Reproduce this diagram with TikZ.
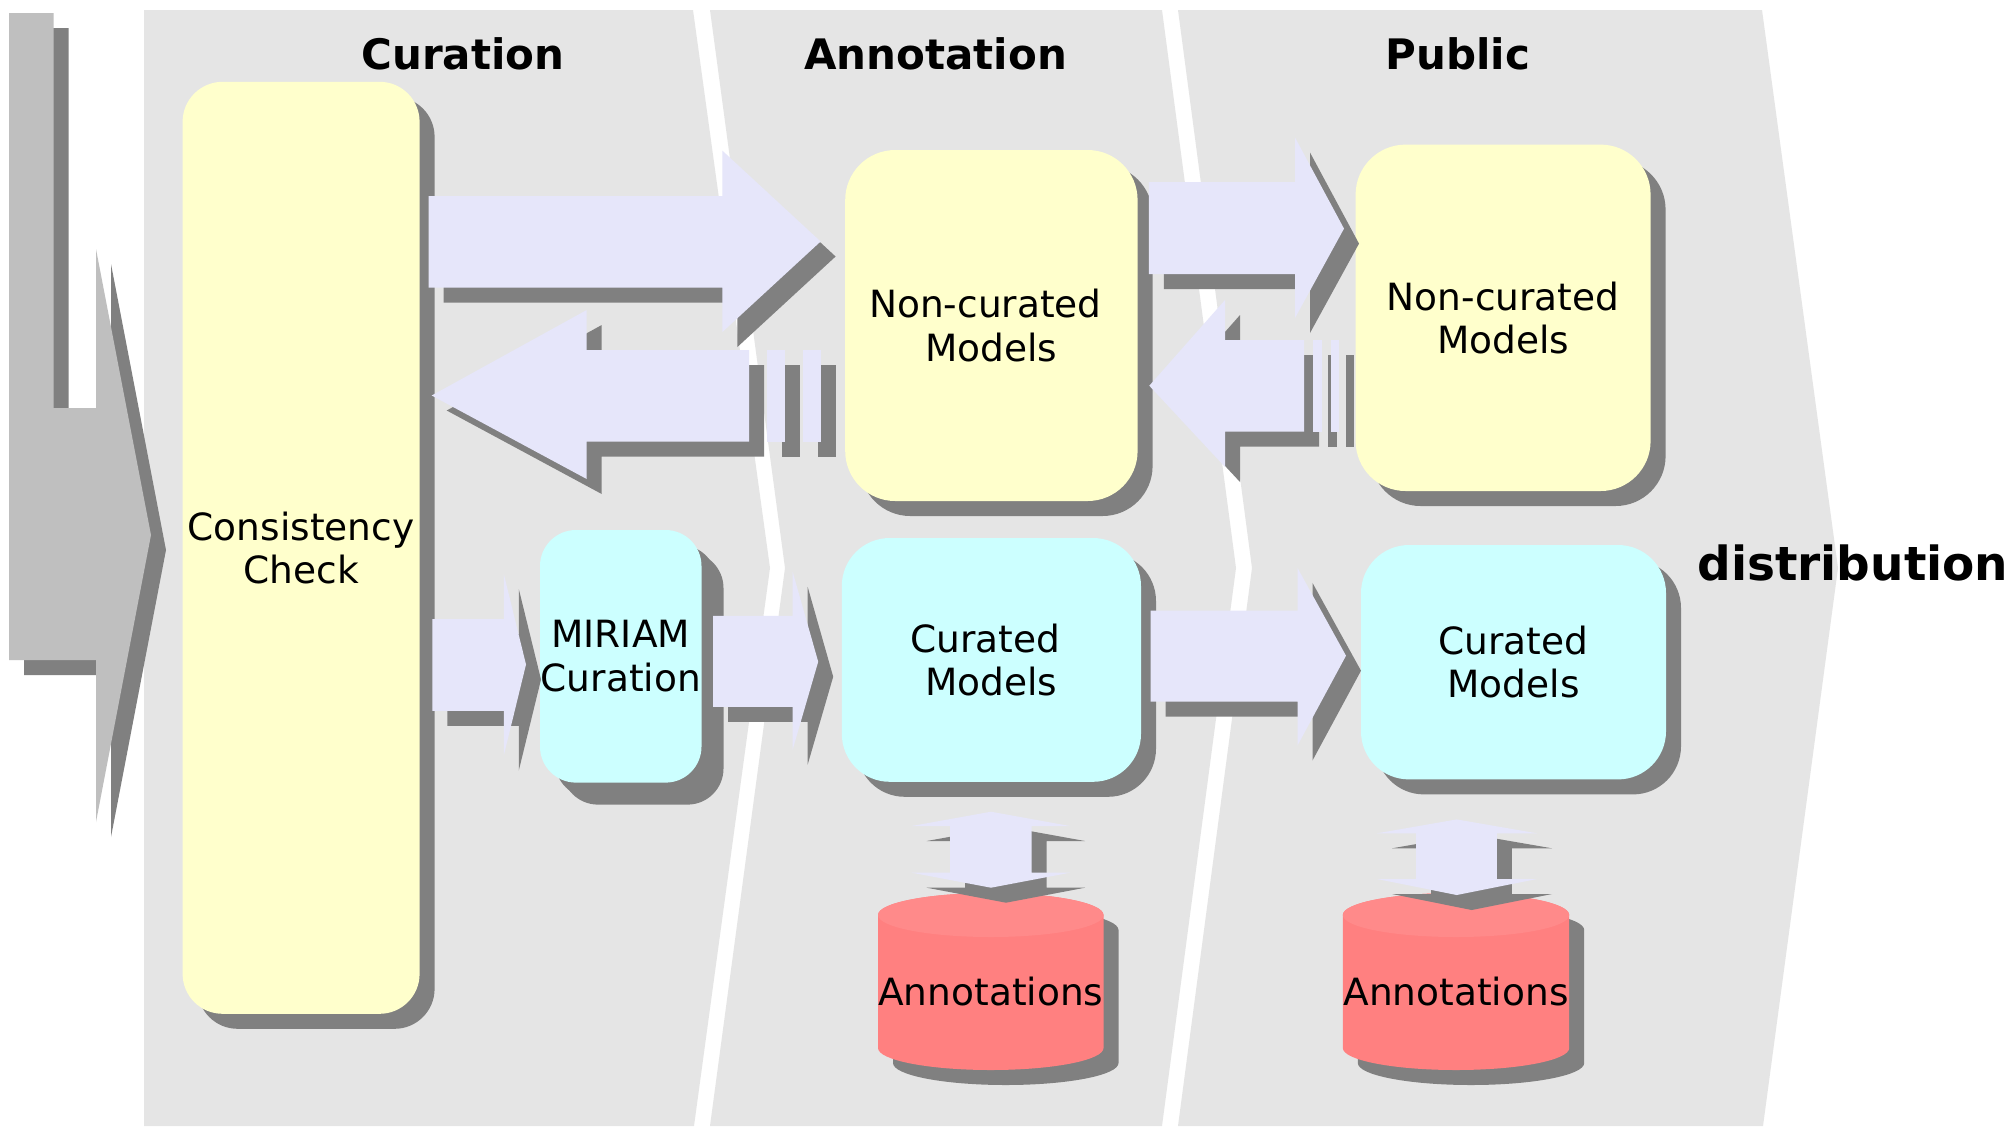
\documentclass[tikz,border=0pt]{standalone}
\usepackage{fontspec}
\setmainfont{DejaVu Sans}
\usetikzlibrary{shadows}
\definecolor{panelgray}{HTML}{E5E5E5}
\definecolor{shgray}{HTML}{808080}
\definecolor{lgray}{HTML}{BFBFBF}
\definecolor{lavfill}{HTML}{E6E6FA}
\definecolor{ycol}{HTML}{FFFFCC}
\definecolor{ccol}{HTML}{CCFFFF}
\definecolor{cylbody}{HTML}{FF8080}
\definecolor{cyltop}{HTML}{FF8A8A}
\newcommand\bodyfont{\fontsize{18.75pt}{21.75pt}\selectfont}
\newcommand\titlefont{\fontsize{21pt}{25pt}\selectfont\bfseries}
\newcommand\trailsp{\kern0.318em}
\newcommand\flatarrow[1]{\fill[shgray,shift={(15,15)}] #1; \fill[lavfill] #1;}
\newcommand\cylinderdb[3]{%
  \fill[shgray,shift={(15,15)}] ({#2-#3},915) arc[start angle=180,end angle=360,x radius=#3,y radius=22] -- ({#2+#3},1048) arc[start angle=0,end angle=180,x radius=#3,y radius=22] -- cycle;
  \fill[cylbody] ({#2-#3},915) arc[start angle=180,end angle=360,x radius=#3,y radius=22] -- ({#2+#3},1048) arc[start angle=0,end angle=180,x radius=#3,y radius=22] -- cycle;
  \fill[cyltop] (#2,915) ellipse[x radius=#3,y radius=22];
  \node[anchor=base,inner sep=0pt,font=\bodyfont] (#1) at (#2,1005) {Annotations};}
\begin{document}
\begin{tikzpicture}[x=0.5pt,y=-0.5pt,
  mbox/.style={inner sep=0pt,align=center,font=\bodyfont,
    drop shadow={shadow xshift=7.5pt,shadow yshift=-7.5pt,fill=shgray,opacity=1}},
  bigshadow/.style={drop shadow={shadow xshift=11pt,shadow yshift=-11pt,fill=shgray,opacity=1}},
  ttl/.style={anchor=base,inner sep=0pt,font=\titlefont}]
\useasboundingbox (0,0) rectangle (2014,1126);
\fill[white] (0,0) rectangle (2014,1126);
% panels
\fill[panelgray] (144,10) -- (693,10) -- (770,568) -- (694,1126) -- (144,1126) -- cycle;
\fill[panelgray] (710,10) -- (1162,10) -- (1236,568) -- (1162,1126) -- (710,1126) -- (785,568) -- cycle;
\fill[panelgray] (1178,10) -- (1762,10) -- (1838,568) -- (1763,1126) -- (1178,1126) -- (1252,568) -- cycle;
% left big arrow
\fill[shgray,shift={(15,15)}] (9,13) -- (53.6,13) -- (53.6,408) -- (96,408) -- (96,249) -- (151,535) -- (96,822) -- (96,660) -- (9,660) -- cycle;
\fill[lgray] (9,13) -- (53.6,13) -- (53.6,408) -- (96,408) -- (96,249) -- (151,535) -- (96,822) -- (96,660) -- (9,660) -- cycle;
% boxes
\node[mbox,fill=ycol,rounded corners=20pt,minimum width=118.5pt,minimum height=466pt] (cc) at (301.1,547.8) {Consistency\\Check};
\node[mbox,bigshadow,fill=ccol,rounded corners=18pt,minimum width=80.75pt,minimum height=126.3pt] (miriam) at (620.75,656.3) {MIRIAM\\Curation};
\node[mbox,fill=ycol,rounded corners=25pt,minimum width=146.2pt,minimum height=175.5pt] (ncA) at (991.4,325.5) {Non-curated\trailsp\\Models};
\node[mbox,fill=ccol,rounded corners=24pt,minimum width=149.6pt,minimum height=121.9pt] (cA) at (991.4,659.9) {Curated\trailsp\\Models};
\node[mbox,fill=ycol,rounded corners=25pt,minimum width=147.5pt,minimum height=173.2pt] (ncP) at (1503.1,317.8) {Non-curated\\Models};
\node[mbox,fill=ccol,rounded corners=24pt,minimum width=152.5pt,minimum height=117.2pt] (cP) at (1513.5,662.2) {Curated\\Models};
% databases
\cylinderdb{dbA}{990.75}{112.75}
\cylinderdb{dbP}{1456}{113.2}
% arrows
\flatarrow{(428.6,196) -- (722.4,196) -- (722.4,150.7) -- (820.6,241.5) -- (722.4,332) -- (722.4,287.5) -- (428.6,287.5) -- cycle}
\flatarrow{(749,350) -- (586.7,350) -- (586.7,310) -- (431.7,395.5) -- (586.7,479) -- (586.7,441.7) -- (749,441.7) -- cycle}
\flatarrow{(767.3,350) rectangle (785,441.7)}
\flatarrow{(803.3,350) rectangle (821,441.7)}
\flatarrow{(432.4,619) -- (503.8,619) -- (503.8,574) -- (526,664.5) -- (503.8,755.5) -- (503.8,710.8) -- (432.4,710.8) -- cycle}
\flatarrow{(713,615.8) -- (792.7,615.8) -- (792.7,571.9) -- (818.2,661.7) -- (792.7,749.5) -- (792.7,706.8) -- (713,706.8) -- cycle}
\flatarrow{(1148.75,182) -- (1295,182) -- (1295,137.5) -- (1344,228.6) -- (1295,318) -- (1295,274) -- (1148.75,274) -- cycle}
\flatarrow{(1304,340) -- (1225,340) -- (1225,300) -- (1149.3,385.7) -- (1225,467) -- (1225,431.7) -- (1304,431.7) -- cycle}
\flatarrow{(1313.3,340) rectangle (1321.7,431.7)}
\flatarrow{(1331,340) rectangle (1339.3,431.7)}
\flatarrow{(1150.7,610.6) -- (1297.5,610.6) -- (1297.5,567.9) -- (1346,655.7) -- (1297.5,745.5) -- (1297.5,701.6) -- (1150.7,701.6) -- cycle}
\flatarrow{(911.7,826) -- (991,811.7) -- (1070,826) -- (1031.7,826) -- (1031.7,872.7) -- (1070,872.7) -- (991,887.7) -- (911.7,872.7) -- (950,872.7) -- (950,826) -- cycle}
\flatarrow{(1377,833.3) -- (1456.7,819.4) -- (1537,833.3) -- (1496.8,833.3) -- (1496.8,879) -- (1537,879) -- (1456.7,895) -- (1377,879) -- (1416,879) -- (1416,833.3) -- cycle}
% titles
\node[ttl] (tCur) at (463,69) {Curation};
\node[ttl] (tAnn) at (935.7,69) {Annotation};
\node[ttl] (tPub) at (1458,69) {Public};
\node[anchor=base west,inner sep=0pt,font=\fontsize{23.5pt}{28pt}\selectfont\bfseries] (tDist) at (1697,580) {distribution};
\end{tikzpicture}
\end{document}
